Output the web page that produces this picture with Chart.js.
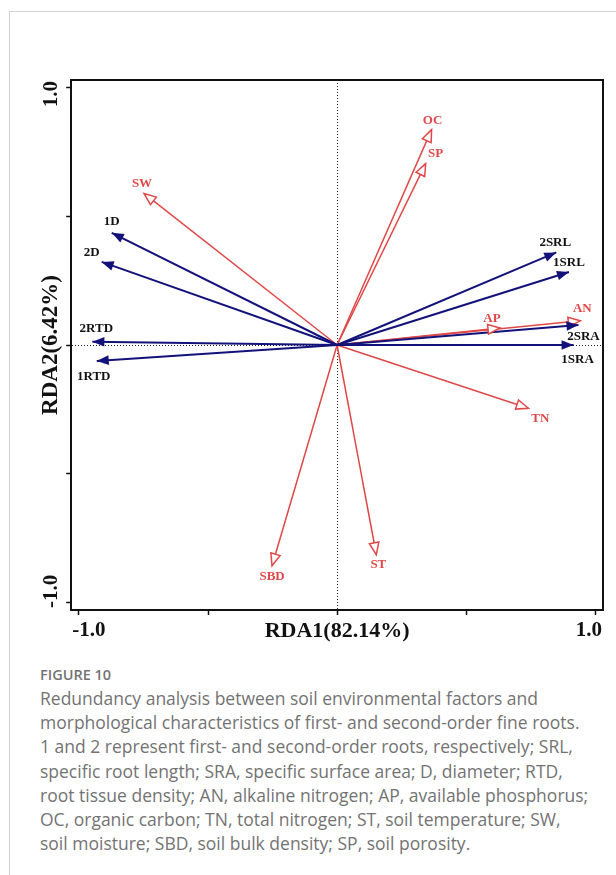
<!DOCTYPE html>
<html>
<head>
<meta charset="utf-8">
<script src="https://cdn.jsdelivr.net/npm/chart.js@4/dist/chart.umd.min.js"></script>
<style>
  html, body { margin: 0; padding: 0; background: #fff; }
  body { width: 616px; height: 875px; position: relative; overflow: hidden; }
  .frame {
    position: absolute; left: 9px; top: 11px; right: 0; bottom: 0;
    border-top: 1px solid #d2d2d2; border-left: 1px solid #d2d2d2;
  }
  #rda { position: absolute; left: 0; top: 0; }
  .caption {
    position: absolute; left: 40px; top: 664px;
    font-family: 'Open Sans', sans-serif; color: #737373; white-space: nowrap;
  }
  .caption h4 { margin: 0; font-size: 14.5px; font-weight: 600; line-height: 22px; }
  .caption p { margin: 0; font-size: 17.5px; line-height: 24.2px; }
</style>
</head>
<body>
<div class="frame"></div>
<canvas id="rda" width="616" height="660"></canvas>
<div class="caption">
  <h4>FIGURE 10</h4>
  <p>Redundancy analysis between soil environmental factors and<br>
  morphological characteristics of first- and second-order fine roots.<br>
  1 and 2 represent first- and second-order roots, respectively; SRL,<br>
  specific root length; SRA, specific surface area; D, diameter; RTD,<br>
  root tissue density; AN, alkaline nitrogen; AP, available phosphorus;<br>
  OC, organic carbon; TN, total nitrogen; ST, soil temperature; SW,<br>
  soil moisture; SBD, soil bulk density; SP, soil porosity.</p>
</div>
<script>
// root traits (response variables), RDA1 / RDA2 loadings
const rootNames = ['1D', '2D', '2RTD', '1RTD', '2SRL', '1SRL', '2SRA', '1SRA'];
const rootRDA1  = [-0.873, -0.912, -0.948, -0.931, 0.849, 0.898, 0.935, 0.916];
const rootRDA2  = [0.436, 0.323, 0.013, -0.062, 0.360, 0.284, 0.078, 0.000];

// soil factors (explanatory variables)
const soilNames = ['OC', 'SP', 'SW', 'AN', 'AP', 'TN', 'ST', 'SBD'];
const soilRDA1  = [0.366, 0.343, -0.748, 0.942, 0.631, 0.741, 0.152, -0.252];
const soilRDA2  = [0.837, 0.705, 0.589, 0.094, 0.066, -0.246, -0.815, -0.858];

const tickValues = [-1, -0.5, 0, 0.5, 1];
const endLabels  = ['-1.0', '1.0'];

const NAVY = '#12127a';
const RED  = '#e04848';
const INK  = '#111';
const SERIF = '"Liberation Serif", "Times New Roman", serif';

// where each arrow label sits relative to its tip (px)
const labelNudge = {
  '1D': [0, -11], '2D': [-10, -9], '2RTD': [4, -13], '1RTD': [-3, 16],
  '2SRL': [-1, -10], '1SRL': [0, -9], '2SRA': [5, 12], '1SRA': [4, 15],
  OC: [1, -9], SP: [10, -10], SW: [-2, -10], AN: [2, -12], AP: [-8, -9],
  TN: [12, 10], ST: [2, 10], SBD: [0, 11]
};

function vectors(names, xs, ys, color, width, open, textColor) {
  return names.map((name, i) => ({
    label: name,
    data: [{ x: 0, y: 0 }, { x: xs[i], y: ys[i] }],
    showLine: true,
    borderColor: color,
    borderWidth: width,
    pointRadius: 0,
    openHead: open,
    textColor
  }));
}

const arrowPlugin = {
  id: 'arrows',
  afterDatasetsDraw(chart) {
    const ctx = chart.ctx;
    const sets = chart.data.datasets.map((ds, i) => [ds, chart.getDatasetMeta(i).data]);
    // open heads first so the filled navy heads stay on top
    sets.sort((a, b) => (b[0].openHead ? 1 : 0) - (a[0].openHead ? 1 : 0));
    sets.forEach(([ds, pts]) => {
      const a = pts[0], b = pts[1];
      const ang = Math.atan2(b.y - a.y, b.x - a.x);
      ctx.save();
      ctx.translate(b.x, b.y);
      ctx.rotate(ang);
      ctx.beginPath();
      ctx.moveTo(0, 0);
      ctx.lineTo(-12, -4.8);
      ctx.lineTo(-12, 4.8);
      ctx.closePath();
      if (ds.openHead) {
        ctx.fillStyle = '#fff';
        ctx.fill();
        ctx.lineWidth = 1.5;
        ctx.strokeStyle = ds.borderColor;
        ctx.stroke();
      } else {
        ctx.fillStyle = ds.borderColor;
        ctx.fill();
      }
      ctx.restore();

      const n = labelNudge[ds.label] || [0, 0];
      ctx.save();
      ctx.font = 'bold 13px ' + SERIF;
      ctx.fillStyle = ds.textColor;
      ctx.textAlign = 'center';
      ctx.textBaseline = 'middle';
      ctx.fillText(ds.label, b.x + n[0], b.y + n[1]);
      ctx.restore();
    });
  },
  afterDraw(chart) {
    // end tick labels, aligned to the frame edges
    const ctx = chart.ctx;
    const { left, right, top, bottom } = chart.chartArea;
    const ly = chart.scales.x.top + 21;
    const lx = chart.scales.y.left + 15;
    ctx.save();
    ctx.font = 'bold 21px ' + SERIF;
    ctx.fillStyle = INK;
    ctx.textBaseline = 'middle';
    ctx.textAlign = 'left';
    ctx.fillText(endLabels[0], left + 1, ly);
    ctx.textAlign = 'right';
    ctx.fillText(endLabels[1], right - 1, ly);
    ctx.translate(lx, 0);
    ctx.rotate(-Math.PI / 2);
    ctx.textAlign = 'right';
    ctx.fillText(endLabels[1], -top - 1, 0);
    ctx.textAlign = 'left';
    ctx.fillText(endLabels[0], -bottom + 2, 0);
    ctx.restore();
  }
};

const zeroLine = c => (c.tick && c.tick.value === 0 ? '#222' : 'rgba(0,0,0,0)');
const setTicks = s => { s.ticks = tickValues.map(v => ({ value: v })); };

new Chart(document.getElementById('rda'), {
  type: 'scatter',
  data: {
    datasets: [
      ...vectors(rootNames, rootRDA1, rootRDA2, NAVY, 2, false, INK),
      ...vectors(soilNames, soilRDA1, soilRDA2, RED, 1.5, true, RED)
    ]
  },
  options: {
    responsive: false,
    animation: false,
    events: [],
    layout: { padding: { left: 36.6, right: 13, top: 80, bottom: 15.8 } },
    plugins: { legend: { display: false }, tooltip: { enabled: false } },
    scales: {
      x: {
        type: 'linear', position: 'bottom', min: -1.03, max: 1.03,
        afterBuildTicks: setTicks,
        ticks: { display: false },
        grid: { color: zeroLine, lineWidth: 1, tickColor: INK, tickLength: 5, tickWidth: 1.5 },
        border: { color: INK, width: 2, dash: [1, 2] },
        title: {
          display: true, text: 'RDA1(82.14%)', color: INK,
          font: { family: SERIF, size: 22, weight: 'bold' },
          padding: { top: 2.8, bottom: 0 }
        }
      },
      y: {
        type: 'linear', position: 'left', min: -1.03, max: 1.03,
        afterBuildTicks: setTicks,
        ticks: { display: false },
        grid: { color: zeroLine, lineWidth: 1, tickColor: INK, tickLength: 5, tickWidth: 1.5 },
        border: { color: INK, width: 2, dash: [1, 2] },
        title: {
          display: true, text: 'RDA2(6.42%)', color: INK,
          font: { family: SERIF, size: 23, weight: 'bold' },
          padding: { top: 0.6, bottom: 1.4 }
        }
      },
      xTop: {
        type: 'linear', position: 'top', min: -1.03, max: 1.03,
        ticks: { display: false }, grid: { display: false, drawTicks: false },
        border: { display: true, color: INK, width: 2 }
      },
      yRight: {
        type: 'linear', position: 'right', min: -1.03, max: 1.03,
        ticks: { display: false }, grid: { display: false, drawTicks: false },
        border: { display: true, color: INK, width: 2 }
      }
    }
  },
  plugins: [arrowPlugin]
});
</script>
</body>
</html>
